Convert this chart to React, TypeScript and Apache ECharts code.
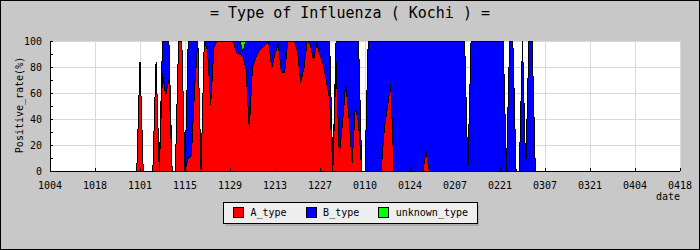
import React, { useEffect, useRef } from "react";
import * as echarts from "echarts";

// Category dates: 1004 .. 0418 (daily, non-leap season)
const dates: string[] = [];
for (let i = 0; i < 197; i++) {
  const d = new Date(2010, 9, 4 + i);
  dates.push(String(d.getMonth() + 1).padStart(2, "0") + String(d.getDate()).padStart(2, "0"));
}

// Positive rate (%) by type, one value per day; rows are 14-day blocks
const aType: number[] = [
  0, 0, 0, 0, 0, 0, 0, 0, 0, 0, 0, 0, 0, 0, // 1004
  0, 0, 0, 0, 0, 0, 0, 0, 0, 0, 0, 0, 0, 0, // 1018
  84, 0, 0, 0, 0, 84, 0, 75, 58, 70, 0, 0, 100, 100, // 1101
  0, 10, 12, 64, 100, 0, 100, 93, 51, 95, 100, 100, 100, 100, // 1115
  100, 100, 91, 90, 88, 78, 32, 80, 87, 92, 95, 97, 100, 79, // 1129
  90, 98, 76, 76, 100, 100, 100, 92, 68, 79, 100, 97, 85, 98, // 1213
  89, 82, 69, 55, 0, 84, 12, 37, 67, 42, 6, 50, 36, 0, // 1227
  0, 0, 0, 0, 0, 0, 32, 50, 67, 0, 0, 0, 0, 0, // 0110
  0, 0, 0, 0, 0, 15, 0, 0, 0, 0, 0, 0, 0, 0, // 0124
  0, 0, 0, 0, 0, 0, 0, 0, 0, 0, 0, 0, 0, 0, // 0207
  0, 0, 0, 0, 0, 0, 0, 0, 0, 0, 0, 0, 0, 0, // 0221
  0, 0, 0, 0, 0, 0, 0, 0, 0, 0, 0, 0, 0, 0, // 0307
  0, 0, 0, 0, 0, 0, 0, 0, 0, 0, 0, 0, 0, 0, // 0321
  0, 0, 0, 0, 0, 0, 0, 0, 0, 0, 0, 0, 0, 0, // 0404
  0, // 0418
];

const bType: number[] = [
  0, 0, 0, 0, 0, 0, 0, 0, 0, 0, 0, 0, 0, 0, // 1004
  0, 0, 0, 0, 0, 0, 0, 0, 0, 0, 0, 0, 0, 0, // 1018
  0, 0, 0, 0, 0, 0, 0, 25, 42, 30, 0, 0, 0, 0, // 1101
  0, 90, 88, 36, 0, 0, 0, 7, 49, 5, 0, 0, 0, 0, // 1115
  0, 0, 9, 10, 4, 22, 68, 20, 13, 8, 5, 3, 0, 21, // 1129
  10, 2, 24, 24, 0, 0, 0, 8, 32, 21, 0, 3, 15, 2, // 1213
  11, 18, 31, 45, 0, 16, 88, 63, 33, 58, 94, 50, 64, 0, // 1227
  0, 100, 100, 100, 100, 100, 68, 50, 33, 100, 100, 100, 100, 100, // 0110
  100, 100, 100, 100, 100, 85, 100, 100, 100, 100, 100, 100, 100, 100, // 0124
  100, 100, 100, 100, 0, 100, 100, 100, 100, 100, 100, 100, 100, 100, // 0207
  100, 100, 0, 100, 100, 0, 0, 100, 0, 100, 100, 0, 0, 0, // 0221
  0, 0, 0, 0, 0, 0, 0, 0, 0, 0, 0, 0, 0, 0, // 0307
  0, 0, 0, 0, 0, 0, 0, 0, 0, 0, 0, 0, 0, 0, // 0321
  0, 0, 0, 0, 0, 0, 0, 0, 0, 0, 0, 0, 0, 0, // 0404
  0, // 0418
];

const unknownType: number[] = [
  0, 0, 0, 0, 0, 0, 0, 0, 0, 0, 0, 0, 0, 0, // 1004
  0, 0, 0, 0, 0, 0, 0, 0, 0, 0, 0, 0, 0, 0, // 1018
  0, 0, 0, 0, 0, 0, 0, 0, 0, 0, 0, 0, 0, 0, // 1101
  0, 0, 0, 0, 0, 0, 0, 0, 0, 0, 0, 0, 0, 0, // 1115
  0, 0, 0, 0, 8, 0, 0, 0, 0, 0, 0, 0, 0, 0, // 1129
  0, 0, 0, 0, 0, 0, 0, 0, 0, 0, 0, 0, 0, 0, // 1213
  0, 0, 0, 0, 0, 0, 0, 0, 0, 0, 0, 0, 0, 0, // 1227
  0, 0, 0, 0, 0, 0, 0, 0, 0, 0, 0, 0, 0, 0, // 0110
  0, 0, 0, 0, 0, 0, 0, 0, 0, 0, 0, 0, 0, 0, // 0124
  0, 0, 0, 0, 0, 0, 0, 0, 0, 0, 0, 0, 0, 0, // 0207
  0, 0, 0, 0, 0, 0, 0, 0, 0, 0, 0, 0, 0, 0, // 0221
  0, 0, 0, 0, 0, 0, 0, 0, 0, 0, 0, 0, 0, 0, // 0307
  0, 0, 0, 0, 0, 0, 0, 0, 0, 0, 0, 0, 0, 0, // 0321
  0, 0, 0, 0, 0, 0, 0, 0, 0, 0, 0, 0, 0, 0, // 0404
  0, // 0418
];

const seriesNames = ["A_type", "B_type", "unknown_type"];
const seriesColors = ["#ff0000", "#0000ff", "#00ff00"];
const titleText = "= Type of Influenza ( Kochi ) =";
const yName = "Positive_rate(%)";
const xName = "date";

const FONT = "'DejaVu Sans Mono', 'Liberation Mono', monospace";

export default function App() {
  const ref = useRef<HTMLDivElement>(null);
  useEffect(() => {
    document.body.style.margin = "0";
    if (!ref.current) return;
    const chart = echarts.init(ref.current, undefined, { renderer: "svg" });
    const values = [aType, bType, unknownType];
    const series = seriesNames.map((name, i) => ({
      name,
      type: "line",
      stack: "total",
      data: values[i],
      symbol: "none",
      showSymbol: false,
      silent: true,
      lineStyle: { color: "#000", width: 1 },
      areaStyle: { color: seriesColors[i], opacity: 1 },
      itemStyle: { color: seriesColors[i] },
      emphasis: { disabled: true },
      z: 2,
    }));
    chart.setOption({
      animation: false,
      backgroundColor: "#c8c8c8",
      textStyle: { fontFamily: FONT },
      grid: {
        left: 50,
        top: 41,
        width: 630,
        height: 130,
        show: true,
        backgroundColor: "#ffffff",
        borderWidth: 0,
      },
      xAxis: [
        {
          type: "category",
          data: dates,
          boundaryGap: false,
          axisLine: { lineStyle: { color: "#000", width: 1 } },
          axisTick: { show: false },
          axisLabel: {
            interval: 13,
            margin: 9,
            fontSize: 10,
            color: "#000",
            fontFamily: FONT,
            showMinLabel: true,
            showMaxLabel: true,
          },
          splitLine: { show: true, interval: 13, lineStyle: { color: "#d9d9d9", width: 1 } },
        },
        {
          type: "category",
          data: dates,
          boundaryGap: false,
          position: "bottom",
          z: 10,
          axisLine: { show: true, lineStyle: { color: "#000", width: 1 } },
          axisTick: { show: true, inside: true, length: 3, interval: 13, lineStyle: { color: "#000" } },
          axisLabel: { show: false },
          splitLine: { show: false },
        },
      ],
      yAxis: [
        {
          type: "value",
          min: 0,
          max: 100,
          interval: 20,
          axisLine: { show: true, lineStyle: { color: "#000", width: 1 } },
          axisTick: { show: false },
          axisLabel: { margin: 8, fontSize: 10, color: "#000", fontFamily: FONT },
          splitLine: { show: true, lineStyle: { color: "#d9d9d9", width: 1 } },
        },
        {
          type: "value",
          min: 0,
          max: 100,
          interval: 20,
          position: "left",
          z: 10,
          axisLine: { show: true, lineStyle: { color: "#000", width: 1 } },
          axisTick: { show: true, inside: true, length: 3, lineStyle: { color: "#000" } },
          minorTick: { show: true, splitNumber: 2, length: 3, lineStyle: { color: "#000" } },
          axisLabel: { show: false },
          splitLine: { show: false },
        },
      ],
      legend: {
        data: seriesNames,
        left: 223,
        top: 202,
        orient: "horizontal",
        icon: "rect",
        itemWidth: 10,
        itemHeight: 10,
        itemGap: 19,
        padding: [5, 10, 5, 10],
        backgroundColor: "#eeeeee",
        borderColor: "#000",
        borderWidth: 1,
        selectedMode: false,
        itemStyle: { borderColor: "#000", borderWidth: 1 },
        textStyle: { fontFamily: FONT, fontSize: 10, color: "#000", padding: [0, 0, 0, 2] },
      },
      graphic: [
        {
          type: "rect",
          z: 1,
          shape: { x: 226, y: 205, width: 253, height: 21 },
          style: { fill: "#adadad" },
        },
        {
          type: "text",
          x: 350,
          y: 13,
          style: {
            text: titleText,
            fontSize: 15,
            fontFamily: FONT,
            fill: "#000",
            align: "center",
            verticalAlign: "middle",
          },
        },
        {
          type: "text",
          x: 19.5,
          y: 105,
          rotation: Math.PI / 2,
          style: {
            text: yName,
            fontSize: 10,
            fontFamily: FONT,
            fill: "#000",
            align: "center",
            verticalAlign: "middle",
          },
        },
        {
          type: "text",
          x: 680,
          y: 196,
          style: {
            text: xName,
            fontSize: 10,
            fontFamily: FONT,
            fill: "#000",
            align: "right",
            verticalAlign: "middle",
          },
        },
        {
          type: "rect",
          z: 100,
          shape: { x: 0.5, y: 0.5, width: 699, height: 249 },
          style: { fill: "none", stroke: "#000", lineWidth: 1 },
        },
      ],
      series,
    });
    return () => chart.dispose();
  }, []);
  return (
    <div
      ref={ref}
      style={{
        position: "absolute",
        left: 0,
        top: 0,
        width: 700,
        height: 250,
        shapeRendering: "crispEdges",
      } as React.CSSProperties}
    />
  );
}
